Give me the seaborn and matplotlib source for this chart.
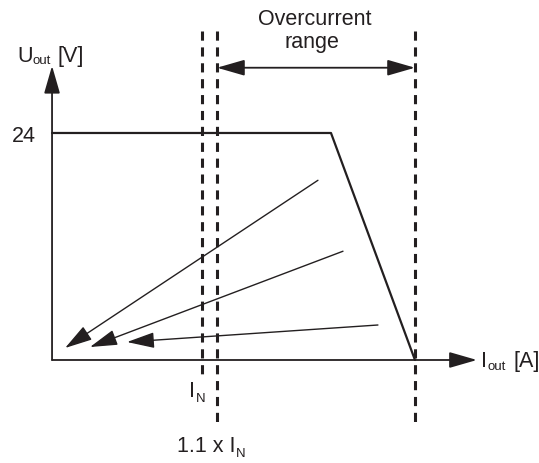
import matplotlib
matplotlib.use("Agg")
import matplotlib.pyplot as plt
import seaborn as sns
import pandas as pd
from matplotlib.patches import FancyArrowPatch

# ---- data (schematic units: current in multiples of I_N, voltage in V) ----
curve_I = [0.0, 1.86, 2.42]
curve_U = [24.0, 24.0, 0.0]
vline_I = [1.0, 1.1, 2.42]
vline_bottom = [-1.6, -7.1, -7.1]
vline_top = 34.8
# foldback arrows: start (I, U) -> tip (I, U)
arrow_start_I = [1.773, 1.94, 2.173]
arrow_start_U = [19.0, 11.5, 3.7]
arrow_tip_I = [0.087, 0.253, 0.50]
arrow_tip_U = [1.27, 1.37, 1.90]
xaxis_end = 2.833
yaxis_end = 31.1
range_arrow_U = 30.9
ytick_label = "24"

sns.set_theme(style="white")
plt.rcParams['font.family'] = ['Liberation Sans', 'DejaVu Sans']

fig = plt.figure(figsize=(5.39, 4.63), dpi=100)
ax = fig.add_axes([0, 0, 1, 1])
ax.set_xlim(-0.347, 3.247)
ax.set_ylim(-10.89, 38.06)
ax.axis("off")

col = "#231f20"

# characteristic curve
df = pd.DataFrame({"I": curve_I, "U": curve_U})
sns.lineplot(data=df, x="I", y="U", ax=ax, color=col, lw=1.6, sort=False,
             estimator=None)

# dashed vertical lines (drawn from the top so a dash starts there)
for x, yb in zip(vline_I, vline_bottom):
    ax.plot([x, x], [vline_top, yb], color=col, lw=2.2, dashes=(3.0, 2.2))

def arrow(p0, p1, lw=1.0, both=False):
    style = "<|-|>" if both else "-|>"
    a = FancyArrowPatch(p0, p1, arrowstyle=f"{style},head_length=17,head_width=4.9",
                        mutation_scale=1, color=col, lw=lw,
                        shrinkA=0, shrinkB=0)
    ax.add_patch(a)

# axes
arrow((0, 0), (xaxis_end, 0), lw=1.3)
arrow((0, 0), (0, yaxis_end), lw=1.3)

# overcurrent range double arrow
arrow((vline_I[1], range_arrow_U), (vline_I[2], range_arrow_U), lw=1.3, both=True)

# foldback arrows
for sx, sy, tx, ty in zip(arrow_start_I, arrow_start_U, arrow_tip_I, arrow_tip_U):
    arrow((sx, sy), (tx, ty), lw=1.0)

# text placement helper: pixel position (from top-left) -> data coords
def P(px, py):
    return (px - 52) / 150.0, (360 - py) / 9.458

fs = 15.5
sub = 9.5

def txt(px, py, s, size=fs, ha="left"):
    x, y = P(px, py)
    return ax.text(x, y, s, fontsize=size, ha=ha, va="baseline", color=col)

def after(prev, py, s, size, gap_pt):
    _, y = P(0, py)
    return ax.annotate(s, xy=(1, y), xycoords=(prev, "data"),
                       xytext=(gap_pt, 0), textcoords="offset points",
                       fontsize=size, ha="left", va="baseline", color=col)

txt(36, 142, ytick_label, ha="right")
txt(314.5, 25, "Overcurrent", ha="center")
txt(312, 48, "range", ha="center")

t = txt(17, 62, "U"); s = after(t, 64, "out", sub, 0.3); after(s, 62, "[V]", fs, 4.5)
t = txt(481, 367, "I"); s = after(t, 370, "out", sub, 0.3); after(s, 367, "[A]", fs, 5.5)
t = txt(189, 397, "I"); after(t, 402, "N", sub, 0.5)
t = txt(177, 452, "1.1 x I"); after(t, 457, "N", sub, 0.5)

fig.savefig("out.png", dpi=100)
